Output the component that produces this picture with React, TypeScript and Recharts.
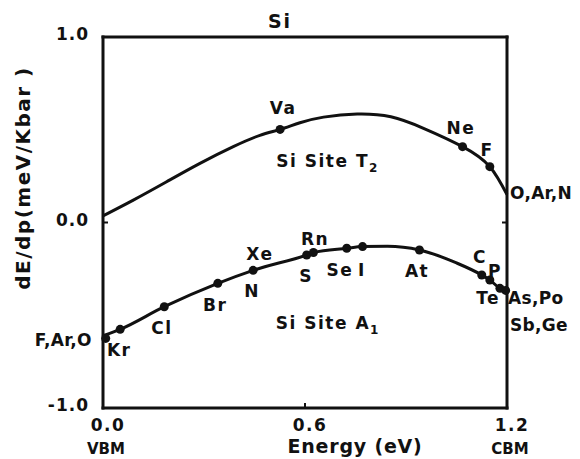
import { ComposedChart, Line, Scatter, XAxis, YAxis, ReferenceDot } from 'recharts'

const FONT = '"DejaVu Sans", Verdana, sans-serif'
const INK = '#111'

// T2 site: smooth curve read along its length, then the marked impurities
const t2Curve = [
  { e: 0, v: 0.036 },
  { e: 0.09, v: 0.121 },
  { e: 0.189, v: 0.22 },
  { e: 0.288, v: 0.319 },
  { e: 0.387, v: 0.409 },
  { e: 0.466, v: 0.47 },
  { e: 0.526, v: 0.502 },
  { e: 0.585, v: 0.538 },
  { e: 0.655, v: 0.568 },
  { e: 0.755, v: 0.585 },
  { e: 0.855, v: 0.57 },
  { e: 0.952, v: 0.508 },
  { e: 1.068, v: 0.409 },
  { e: 1.149, v: 0.301 },
  { e: 1.2, v: 0.15 },
]
const t2Dots = [
  { e: 0.526, v: 0.502 },
  { e: 1.068, v: 0.409 },
  { e: 1.149, v: 0.301 },
]

// A1 site
const a1Curve = [
  { e: 0, v: -0.61 },
  { e: 0.051, v: -0.576 },
  { e: 0.182, v: -0.454 },
  { e: 0.341, v: -0.328 },
  { e: 0.446, v: -0.258 },
  { e: 0.605, v: -0.175 },
  { e: 0.625, v: -0.162 },
  { e: 0.724, v: -0.139 },
  { e: 0.771, v: -0.13 },
  { e: 0.845, v: -0.128 },
  { e: 0.94, v: -0.148 },
  { e: 1.05, v: -0.218 },
  { e: 1.125, v: -0.283 },
  { e: 1.149, v: -0.31 },
  { e: 1.179, v: -0.355 },
  { e: 1.2, v: -0.37 },
]
const a1Dots = [
  { e: 0.008, v: -0.625 },
  { e: 0.051, v: -0.576 },
  { e: 0.182, v: -0.454 },
  { e: 0.341, v: -0.328 },
  { e: 0.446, v: -0.258 },
  { e: 0.605, v: -0.175 },
  { e: 0.625, v: -0.162 },
  { e: 0.724, v: -0.139 },
  { e: 0.771, v: -0.13 },
  { e: 0.94, v: -0.148 },
  { e: 1.125, v: -0.283 },
  { e: 1.149, v: -0.31 },
  { e: 1.179, v: -0.355 },
  { e: 1.196, v: -0.366 },
]

// impurity names, placed in energy / dE/dp units
const elementTags = [
  { text: 'Va', e: 0.535, v: 0.617 },
  { text: 'Ne', e: 1.063, v: 0.509 },
  { text: 'F', e: 1.141, v: 0.391 },
  { text: 'Kr', e: 0.048, v: -0.687 },
  { text: 'Cl', e: 0.175, v: -0.569 },
  { text: 'Br', e: 0.333, v: -0.445 },
  { text: 'N', e: 0.443, v: -0.369 },
  { text: 'Xe', e: 0.466, v: -0.17 },
  { text: 'Rn', e: 0.63, v: -0.089 },
  { text: 'S', e: 0.603, v: -0.288 },
  { text: 'Se', e: 0.704, v: -0.256 },
  { text: 'I', e: 0.769, v: -0.256 },
  { text: 'At', e: 0.933, v: -0.261 },
  { text: 'C', e: 1.12, v: -0.186 },
  { text: 'P', e: 1.164, v: -0.261 },
  { text: 'Te', e: 1.144, v: -0.407 },
]
const edgeTags = [
  { text: 'O,Ar,N', e: 1.209, v: 0.159, anchor: 'start' },
  { text: 'As,Po', e: 1.203, v: -0.407, anchor: 'start' },
  { text: 'Sb,Ge', e: 1.209, v: -0.553, anchor: 'start' },
  { text: 'F,Ar,O', e: -0.033, v: -0.633, anchor: 'end' },
]
const siteTags = [
  { text: 'Si Site T', sub: '2', e: 0.667, v: 0.332 },
  { text: 'Si Site A', sub: '1', e: 0.668, v: -0.542 },
]

const xTicks = [0, 0.6, 1.2]
const xTickNotes = ['VBM', '', 'CBM']
const yTicks = [-1, 0, 1]

const textStyle = {
  fontFamily: FONT,
  fontWeight: 700,
  fill: INK,
}

const BottomTick = ({ x, y, payload, index }: any) => {
  const value = payload.value as number
  const note = xTickNotes[index]
  return (
    <g>
      {value > 0 && value < 1.2 && (
        <line x1={x} x2={x} y1={y} y2={y - 5} stroke={INK} strokeWidth={2} />
      )}
      <text x={x + 5} y={y + 23} textAnchor="middle" fontSize={17} letterSpacing={1.5} {...textStyle}>
        {value.toFixed(1)}
      </text>
      {note && (
        <text x={x + 3} y={y + 46} textAnchor="middle" fontSize={15} {...textStyle}>
          {note}
        </text>
      )}
    </g>
  )
}

const TopTick = ({ x, y }: any) => (
  <line x1={x} x2={x} y1={y} y2={y + 5} stroke={INK} strokeWidth={2} />
)

const LeftTick = ({ x, y, payload }: any) => {
  const value = payload.value as number
  return (
    <g>
      {value === 0 && <line x1={x} x2={x + 5} y1={y} y2={y} stroke={INK} strokeWidth={2} />}
      <text x={x - 14} y={y + 3} textAnchor="end" fontSize={17} letterSpacing={1} {...textStyle}>
        {value.toFixed(1)}
      </text>
    </g>
  )
}

const RightTick = ({ x, y }: any) => (
  <line x1={x} x2={x - 5} y1={y} y2={y} stroke={INK} strokeWidth={2} />
)

const dot = (p: any) => <circle cx={p.cx} cy={p.cy} r={4.5} fill={INK} />

const tagShape = (text: string, anchor = 'middle', sub?: string, spacing = 1.5) => (p: any) => (
  <text
    x={p.cx}
    y={p.cy}
    dy="0.36em"
    textAnchor={anchor}
    fontSize={17}
    letterSpacing={spacing}
    {...textStyle}
  >
    {text}
    {sub && (
      <tspan dy={5} fontSize={12}>
        {sub}
      </tspan>
    )}
  </text>
)

const axisLine = { stroke: INK, strokeWidth: 3, strokeLinecap: 'square' as const }

export default function App() {
  return (
    <ComposedChart width={572} height={451} margin={{ top: 0, right: 0, bottom: 0, left: 0 }}>
      <XAxis
        xAxisId="top"
        orientation="top"
        type="number"
        domain={[0, 1.2]}
        allowDataOverflow
        ticks={[0.6]}
        height={29}
        tickSize={0}
        tickMargin={0}
        tickLine={false}
        tick={<TopTick />}
        axisLine={axisLine}
        label={{
          content: (p: any) => (
            <text x={p.viewBox.x + 177} y={20} textAnchor="middle" fontSize={19} letterSpacing={2} {...textStyle}>
              Si
            </text>
          ),
        }}
      />
      <XAxis
        dataKey="e"
        type="number"
        domain={[0, 1.2]}
        ticks={xTicks}
        height={51}
        tickSize={0}
        tickMargin={0}
        tickLine={false}
        tick={<BottomTick />}
        axisLine={axisLine}
        interval={0}
        label={{
          content: (p: any) => (
            <text
              x={p.viewBox.x + p.viewBox.width / 2 + 50}
              y={p.viewBox.y + 45}
              textAnchor="middle"
              fontSize={19}
              letterSpacing={0.8}
              {...textStyle}
            >
              Energy (eV)
            </text>
          ),
        }}
      />
      <YAxis
        dataKey="v"
        type="number"
        domain={[-1, 1]}
        ticks={yTicks}
        width={95}
        tickSize={0}
        tickMargin={0}
        tickLine={false}
        tick={<LeftTick />}
        axisLine={axisLine}
        interval={0}
        label={{
          content: (p: any) => (
            <text
              transform={`translate(22, ${p.viewBox.y + 141}) rotate(-90)`}
              textAnchor="middle"
              fontSize={20}
              letterSpacing={1.5}
              {...textStyle}
            >
              dE/dp(meV/Kbar )
            </text>
          ),
        }}
      />
      <YAxis
        yAxisId="right"
        orientation="right"
        type="number"
        domain={[-1, 1]}
        allowDataOverflow
        ticks={[0]}
        width={73}
        tickSize={0}
        tickMargin={0}
        tickLine={false}
        tick={<RightTick />}
        axisLine={axisLine}
      />

      <Line
        data={t2Curve}
        dataKey="v"
        type="natural"
        stroke={INK}
        strokeWidth={3}
        dot={false}
        activeDot={false}
        isAnimationActive={false}
      />
      <Line
        data={a1Curve}
        dataKey="v"
        type="monotone"
        stroke={INK}
        strokeWidth={3}
        dot={false}
        activeDot={false}
        isAnimationActive={false}
      />
      <Scatter data={t2Dots} dataKey="v" shape={dot} isAnimationActive={false} />
      <Scatter data={a1Dots} dataKey="v" shape={dot} isAnimationActive={false} />

      {elementTags.map((t) => (
        <ReferenceDot key={t.text} x={t.e} y={t.v} r={1} ifOverflow="visible" shape={tagShape(t.text)} />
      ))}
      {edgeTags.map((t) => (
        <ReferenceDot
          key={t.text}
          x={t.e}
          y={t.v}
          r={1}
          ifOverflow="visible"
          shape={tagShape(t.text, t.anchor, undefined, 0.3)}
        />
      ))}
      {siteTags.map((t) => (
        <ReferenceDot key={t.text} x={t.e} y={t.v} r={1} ifOverflow="visible" shape={tagShape(t.text, 'middle', t.sub)} />
      ))}
    </ComposedChart>
  )
}
